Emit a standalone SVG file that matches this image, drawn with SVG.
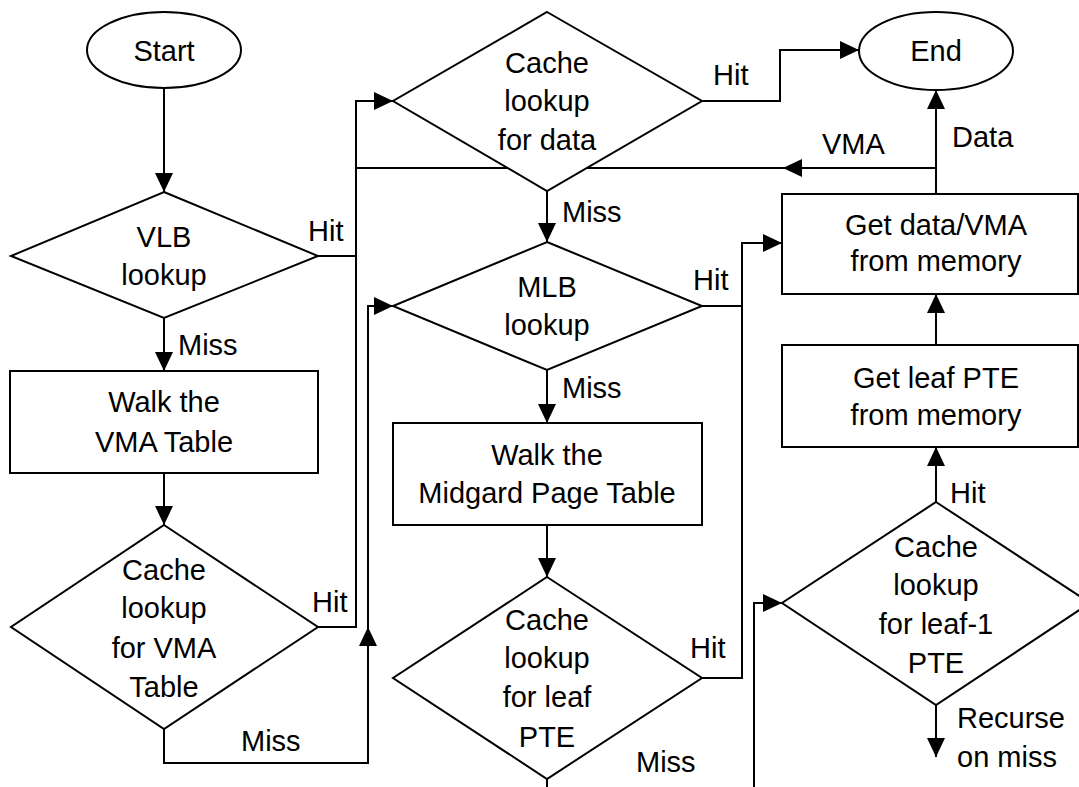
<svg xmlns="http://www.w3.org/2000/svg" width="1079" height="787" viewBox="0 0 1079 787">
<defs>
<marker id="arr" markerUnits="userSpaceOnUse" markerWidth="20" markerHeight="18" viewBox="0 0 20 18" refX="19" refY="9" orient="auto">
<path d="M0,0 L19,9 L0,18 Z" fill="#000"/>
</marker>
<style>
.c{fill:none;stroke:#000;stroke-width:2}
.s{fill:#fff;stroke:#000;stroke-width:2}
text{font-family:"Liberation Sans",Arial,sans-serif;font-size:29px;fill:#000}
.m{text-anchor:middle}
</style>
</defs>
<rect width="1079" height="787" fill="#fff"/>
<g id="connectors">
<path class="c" d="M164 88 V192" marker-end="url(#arr)"/>
<path class="c" d="M318 256 H356"/>
<path class="c" d="M318 627 H356 V101 H393" marker-end="url(#arr)"/>
<path class="c" d="M936 168 H783" marker-end="url(#arr)"/>
<path class="c" d="M783 168 H356"/>
<path class="c" d="M547 191 V242" marker-end="url(#arr)"/>
<path class="c" d="M702 101 H780 V50 H859" marker-end="url(#arr)"/>
<path class="c" d="M936 194 V90" marker-end="url(#arr)"/>
<path class="c" d="M164 318 V371" marker-end="url(#arr)"/>
<path class="c" d="M164 473 V525" marker-end="url(#arr)"/>
<path class="c" d="M164 729 V763 H368 V627" marker-end="url(#arr)"/>
<path class="c" d="M368 627 V306 H393" marker-end="url(#arr)"/>
<path class="c" d="M547 370 V423" marker-end="url(#arr)"/>
<path class="c" d="M702 306 H742"/>
<path class="c" d="M702 678 H742 V243 H782" marker-end="url(#arr)"/>
<path class="c" d="M547 525 V577" marker-end="url(#arr)"/>
<path class="c" d="M547 779 V787"/>
<path class="c" d="M936 345 V294" marker-end="url(#arr)"/>
<path class="c" d="M936 502 V447" marker-end="url(#arr)"/>
<path class="c" d="M936 705 V757" marker-end="url(#arr)"/>
<path class="c" d="M754 787 V603 H782" marker-end="url(#arr)"/>
</g>
<g id="labels">
<text x="308" y="241">Hit</text>
<text x="178" y="355">Miss</text>
<text x="312" y="612">Hit</text>
<text x="241" y="751">Miss</text>
<text x="713" y="85">Hit</text>
<text x="562" y="222">Miss</text>
<text x="693" y="290">Hit</text>
<text x="562" y="398">Miss</text>
<text x="690" y="658">Hit</text>
<text x="636" y="772">Miss</text>
<text x="822" y="154">VMA</text>
<text x="952" y="147">Data</text>
<text x="950" y="503">Hit</text>
<text x="957" y="728">Recurse</text>
<text x="957" y="767">on miss</text>
</g>
<g id="start">
<ellipse class="s" cx="164" cy="50" rx="77" ry="38"/>
<text class="m" x="164" y="61">Start</text>
</g>
<g id="end">
<ellipse class="s" cx="936" cy="51" rx="77" ry="39"/>
<text class="m" x="936" y="61">End</text>
</g>
<g id="vlb">
<polygon class="s" points="164,192 318,256 164,318 11,256"/>
<text class="m" x="164" y="247">VLB</text>
<text class="m" x="164" y="285">lookup</text>
</g>
<g id="walk-vma">
<rect class="s" x="10" y="371" width="308" height="102"/>
<text class="m" x="164" y="412">Walk the</text>
<text class="m" x="164" y="452">VMA Table</text>
</g>
<g id="cache-vma">
<polygon class="s" points="164,525 318,627 164,729 11,627"/>
<text class="m" x="164" y="580">Cache</text>
<text class="m" x="164" y="618">lookup</text>
<text class="m" x="164" y="658">for VMA</text>
<text class="m" x="164" y="697">Table</text>
</g>
<g id="cache-data">
<polygon class="s" points="547,12 702,101 547,191 393,101"/>
<text class="m" x="547" y="73">Cache</text>
<text class="m" x="547" y="111">lookup</text>
<text class="m" x="547" y="150">for data</text>
</g>
<g id="mlb">
<polygon class="s" points="547,242 702,306 547,370 393,306"/>
<text class="m" x="547" y="297">MLB</text>
<text class="m" x="547" y="335">lookup</text>
</g>
<g id="walk-midgard">
<rect class="s" x="393" y="423" width="309" height="102"/>
<text class="m" x="547" y="465">Walk the</text>
<text class="m" x="547" y="503">Midgard Page Table</text>
</g>
<g id="cache-leaf">
<polygon class="s" points="547,577 702,678 547,779 393,678"/>
<text class="m" x="547" y="630">Cache</text>
<text class="m" x="547" y="668">lookup</text>
<text class="m" x="547" y="707">for leaf</text>
<text class="m" x="547" y="747">PTE</text>
</g>
<g id="get-data">
<rect class="s" x="782" y="194" width="296" height="100"/>
<text class="m" x="936" y="235">Get data/VMA</text>
<text class="m" x="936" y="271">from memory</text>
</g>
<g id="get-leaf">
<rect class="s" x="782" y="345" width="296" height="102"/>
<text class="m" x="936" y="388">Get leaf PTE</text>
<text class="m" x="936" y="425">from memory</text>
</g>
<g id="cache-leaf1">
<polygon class="s" points="936,502 1090,603 936,705 782,603"/>
<text class="m" x="936" y="557">Cache</text>
<text class="m" x="936" y="595">lookup</text>
<text class="m" x="936" y="634">for leaf-1</text>
<text class="m" x="936" y="673">PTE</text>
</g>
</svg>
